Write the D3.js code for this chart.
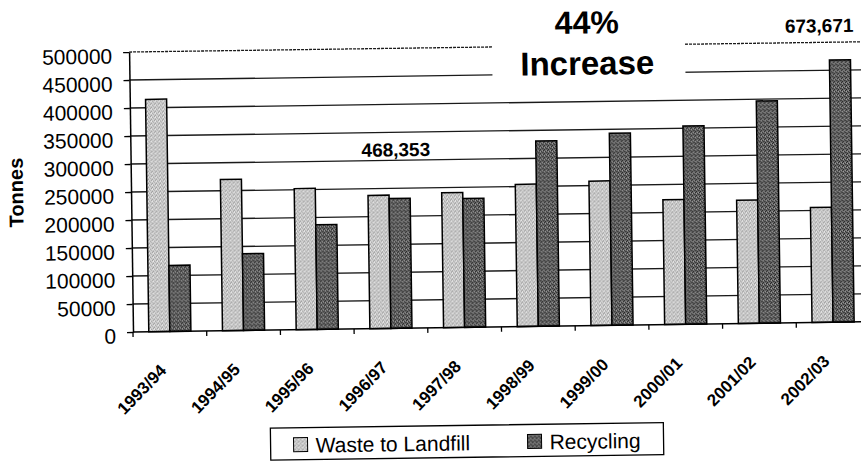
<!DOCTYPE html>
<html lang="en">
<head>
<meta charset="UTF-8">
<script src="https://d3js.org/d3.v7.min.js"></script>
<title>Waste to Landfill vs Recycling</title>
<style>
  body { margin: 0; background: #fff; }
  svg text { font-family: "Liberation Sans", Arial, sans-serif; fill: #000; }
</style>
</head>
<body>
<svg id="chart" width="861" height="463"></svg>
<script>
// data
const categories = ["1993/94", "1994/95", "1995/96", "1996/97", "1997/98",
                    "1998/99", "1999/00", "2000/01", "2001/02", "2002/03"];
const landfill  = [415000, 270000, 252000, 238000, 241000, 254000, 258000, 223000, 220000, 205318];
const recycling = [118000, 137000, 187000, 232000, 230000, 331000, 343000, 354000, 397000, 468353];
const seriesNames = ["Waste to Landfill", "Recycling"];
const yTicks = [0, 50000, 100000, 150000, 200000, 250000, 300000, 350000, 400000, 450000, 500000];
const yLabel = "Tonnes";
const callouts = ["44%", "Increase", "673,671", "468,353"];

const svg = d3.select("#chart");
const margin = {left: 133, right: 870, top: 52, bottom: 332};

// the scan is tilted a little, so the whole drawing gets the same tilt
const root = svg.append("g").attr("transform", `rotate(-0.8,${margin.left},${margin.bottom})`);

// stipple fills like the printed bars
const defs = svg.append("defs");
function stipple(id, base, dots) {
  const p = defs.append("pattern").attr("id", id)
    .attr("width", 4).attr("height", 4).attr("patternUnits", "userSpaceOnUse");
  p.append("rect").attr("width", 4).attr("height", 4).attr("fill", base);
  dots.forEach(d => p.append("rect").attr("x", d[0]).attr("y", d[1])
    .attr("width", 1).attr("height", 1).attr("fill", d[2]));
}
stipple("pLand", "#d2d2d2", [[0,0,"#8c8c8c"],[2,1,"#9a9a9a"],[1,3,"#8c8c8c"],[3,2,"#a5a5a5"],[1,1,"#f4f4f4"]]);
stipple("pRec", "#6a6a6a", [[0,0,"#222"],[2,1,"#2e2e2e"],[1,3,"#1c1c1c"],[3,2,"#333"],[1,1,"#a8a8a8"],[3,0,"#999"],[0,2,"#444"]]);
const fills = ["url(#pLand)", "url(#pRec)"];

const x = d3.scaleBand().domain(categories).range([margin.left, margin.right]).padding(0);
const x1 = d3.scaleBand().domain([0, 1]).range([0, x.bandwidth()])
  .paddingInner(0).paddingOuter(0.75);
const y = d3.scaleLinear().domain([0, 500000]).range([margin.bottom, margin.top]);

// gridlines
root.append("g").selectAll("line").data(yTicks.filter(d => d > 0)).join("line")
  .attr("x1", margin.left).attr("x2", margin.right)
  .attr("y1", d => y(d)).attr("y2", d => y(d))
  .attr("stroke", "#1a1a1a").attr("stroke-width", 1.3)
  .attr("stroke-dasharray", d => d === 500000 ? "3,1" : null);

// white patch behind the "44% Increase" callout
root.append("rect").attr("x", 496).attr("y", -10).attr("width", 193).attr("height", 104)
  .attr("fill", "#fff");

// bars
const rows = categories.map((c, i) => ({cat: c, vals: [landfill[i], recycling[i]]}));
root.append("g").selectAll("g").data(rows).join("g")
  .attr("transform", d => `translate(${x(d.cat)},0)`)
  .selectAll("rect").data(d => d.vals.map((v, j) => ({v, j}))).join("rect")
  .attr("x", d => x1(d.j)).attr("width", x1.bandwidth())
  .attr("y", d => y(d.v)).attr("height", d => y(0) - y(d.v))
  .attr("fill", d => fills[d.j]).attr("stroke", "#000").attr("stroke-width", 1.5);

// y axis
const yAxis = root.append("g").attr("transform", `translate(${margin.left},0)`)
  .call(d3.axisLeft(y).tickValues(yTicks).tickFormat(d3.format("d"))
    .tickSize(6).tickSizeOuter(0).tickPadding(11));
yAxis.select(".domain").attr("stroke", "#000").attr("stroke-width", 1.5);
yAxis.selectAll(".tick line").attr("stroke", "#000").attr("stroke-width", 1.3);
yAxis.selectAll(".tick text").attr("font-size", 21).attr("dy", "0.52em")
  .style("font-family", '"Liberation Sans", Arial, sans-serif');

// x axis with ticks between categories
const xAxis = root.append("g");
xAxis.append("line").attr("x1", margin.left).attr("x2", margin.right)
  .attr("y1", y(0)).attr("y2", y(0)).attr("stroke", "#000").attr("stroke-width", 1.5);
xAxis.selectAll("line.tk").data(categories).join("line").attr("class", "tk")
  .attr("x1", d => x(d)).attr("x2", d => x(d))
  .attr("y1", y(0)).attr("y2", y(0) + 5).attr("stroke", "#000").attr("stroke-width", 1.3);
xAxis.selectAll("text").data(categories).join("text")
  .attr("transform", d => `translate(${x(d) + x.bandwidth() / 2 - 3},${y(0) + 40}) rotate(-45)`)
  .attr("text-anchor", "end").attr("font-size", 17).attr("font-weight", "bold")
  .text(d => d);

// y title
root.append("text").attr("transform", "translate(25,191) rotate(-90)")
  .attr("text-anchor", "middle").attr("font-size", 20).attr("font-weight", "bold")
  .text(yLabel);

// callouts
root.append("text").attr("x", 591).attr("y", 40).attr("text-anchor", "middle")
  .attr("font-size", 32).attr("font-weight", "bold").text(callouts[0]);
root.append("text").attr("x", 591).attr("y", 81).attr("text-anchor", "middle")
  .attr("font-size", 33).attr("font-weight", "bold").text(callouts[1]);
root.append("text").attr("x", 789).attr("y", 42)
  .attr("font-size", 19).attr("font-weight", "bold").text(callouts[2]);
root.append("text").attr("x", 364).attr("y", 160)
  .attr("font-size", 19).attr("font-weight", "bold").text(callouts[3]);

// legend
const legend = root.append("g").attr("transform", "translate(269,430)");
legend.append("rect").attr("width", 393).attr("height", 32)
  .attr("fill", "#fff").attr("stroke", "#000").attr("stroke-width", 1.3);
const items = legend.selectAll("g").data(seriesNames).join("g")
  .attr("transform", (d, i) => `translate(${i === 0 ? 23 : 257},10)`);
items.append("rect").attr("width", 14).attr("height", 14)
  .attr("fill", (d, i) => fills[i]).attr("stroke", "#000").attr("stroke-width", 1);
items.append("text").attr("x", 22).attr("y", 15).attr("font-size", 21).text(d => d);
</script>
</body>
</html>
